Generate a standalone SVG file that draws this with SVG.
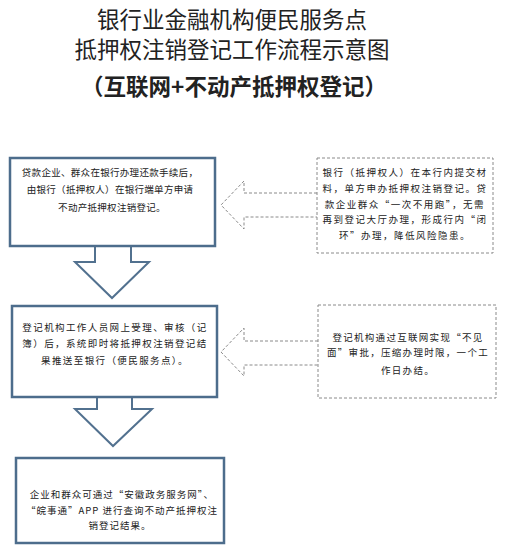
<svg xmlns="http://www.w3.org/2000/svg" width="505" height="551" viewBox="0 0 505 551">
<style>
.title{font-family:"Noto Sans CJK SC","Noto Sans",sans-serif;font-size:22.5px;fill:#222;text-anchor:middle}
.bold{font-weight:bold}
.t{font-family:"Noto Sans CJK SC","Noto Sans",sans-serif;font-size:9.5px;fill:#222;text-anchor:middle;letter-spacing:1px}
.box{fill:#fff;stroke:#4d6d8c;stroke-width:2.5}
.dbox{fill:#fff;stroke:#8a8a8a;stroke-width:1;stroke-dasharray:3,2}
.down{fill:#fff;stroke:#52718f;stroke-width:2;stroke-linejoin:miter}
.left{fill:#fff;stroke:#8a8a8a;stroke-width:1;stroke-dasharray:3,2}
</style>
<rect width="505" height="551" fill="#fff"/>
<g id="title">
<text class="title" x="232" y="28">银行业金融机构便民服务点</text>
<text class="title" x="232" y="58">抵押权注销登记工作流程示意图</text>
<text class="title bold" x="234" y="95">（互联网+不动产抵押权登记）</text>
</g>
<g id="connectors">
<path class="down" d="M95,246 L95,262 L75,262 L112,298 L149,262 L131,262 L131,246"/>
<path class="down" d="M97,397 L97,409 L75,409 L113,446 L152,409 L132,409 L132,397"/>
<path class="left" d="M317,193 L244,193 L244,181 L221,205 L244,229 L244,217 L317,217"/>
<path class="left" d="M318,341 L244,341 L244,328 L221,352 L244,376 L244,365 L318,365"/>
</g>
<g id="node1">
<rect class="box" x="10" y="158" width="205" height="88"/>
<text class="t" x="110" y="176" style="letter-spacing:0.3px">贷款企业、群众在银行办理还款手续后，</text>
<text class="t" x="110" y="193" style="letter-spacing:0.3px">由银行（抵押权人）在银行端单方申请</text>
<text class="t" x="112" y="211" style="letter-spacing:0.3px">不动产抵押权注销登记。</text>
</g>
<g id="node2">
<rect class="dbox" x="317" y="158" width="176" height="95"/>
<text class="t" x="405" y="176" style="letter-spacing:1.5px">银行（抵押权人）在本行内提交材</text>
<text class="t" x="405" y="192" style="letter-spacing:1.5px">料，单方申办抵押权注销登记。贷</text>
<text class="t" x="405" y="208" style="letter-spacing:1.5px">款企业群众“一次不用跑”，无需</text>
<text class="t" x="405" y="223" style="letter-spacing:1.5px">再到登记大厅办理，形成行内“闭</text>
<text class="t" x="405" y="239" style="letter-spacing:1.5px">环”办理，降低风险隐患。</text>
</g>
<g id="node3">
<rect class="box" x="12" y="306" width="205" height="91"/>
<text class="t" x="115" y="331" style="letter-spacing:1.4px">登记机构工作人员网上受理、审核（记</text>
<text class="t" x="115" y="347" style="letter-spacing:1.4px">簿）后，系统即时将抵押权注销登记结</text>
<text class="t" x="115" y="364" style="letter-spacing:1.4px">果推送至银行（便民服务点）。</text>
</g>
<g id="node4">
<rect class="dbox" x="318" y="305" width="178" height="93"/>
<text class="t" x="408" y="341" style="letter-spacing:1.3px">登记机构通过互联网实现“不见</text>
<text class="t" x="408" y="356" style="letter-spacing:1.3px">面”审批，压缩办理时限，一个工</text>
<text class="t" x="408" y="374" style="letter-spacing:1.3px">作日办结。</text>
</g>
<g id="node5">
<rect class="box" x="16" y="458" width="208" height="85"/>
<text class="t" x="122" y="498">企业和群众可通过“安徽政务服务网”、</text>
<text class="t" x="122" y="514">“皖事通”APP 进行查询不动产抵押权注</text>
<text class="t" x="120" y="529">销登记结果。</text>
</g>
</svg>
